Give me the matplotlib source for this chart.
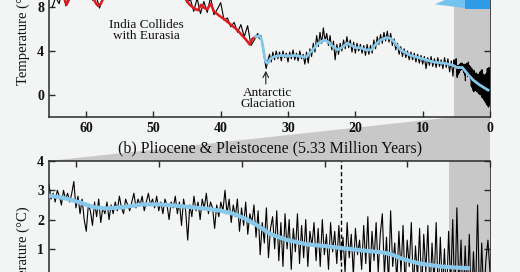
import numpy as np
import matplotlib
matplotlib.use("Agg")
import matplotlib.pyplot as plt
from matplotlib.patches import Polygon

# ---------------- data ----------------
# (a) Cenozoic: black record, Eocene part 65.0 -> 35.0 Myr (evenly sampled)
eocene_black = [8.0, 8.9, 8.3, 9.6, 8.1, 9.2, 8.7, 10.1, 9.4, 10.0,
                9.1, 9.7, 8.6, 9.0, 7.9, 8.8, 9.4, 10.5, 10.1, 11.6,
                11.0, 12.2, 11.5, 12.8, 12.0, 13.1, 12.2, 13.0, 12.4, 12.9,
                11.9, 12.6, 11.6, 12.0, 10.9, 11.3, 10.0, 10.4, 9.1, 9.5,
                8.4, 8.7, 7.6, 8.8, 7.4, 8.5, 7.5, 8.9, 7.3, 7.8,
                8.4, 6.8, 7.0, 6.2, 6.6, 5.7, 6.4, 5.3, 6.3, 4.5, 5.0]
eocene_span = (65.0, 35.0)

# black record 34.5 -> 5.5 Myr (evenly sampled)
ceno_black = [5.6, 5.1, 5.4, 4.2, 3.3, 2.4, 3.1, 3.7, 3.0, 3.9,
              3.2, 4.0, 3.3, 3.9, 3.1, 4.0, 3.4, 3.8, 3.0, 3.9,
              3.3, 4.1, 3.2, 3.8, 3.1, 4.0, 3.3, 3.7, 2.8, 3.9,
              2.9, 4.2, 3.5, 4.7, 3.9, 5.4, 4.4, 5.7, 4.7, 6.1,
              4.9, 5.6, 4.5, 5.4, 4.1, 4.9, 3.2, 4.6, 3.7, 4.7,
              4.0, 5.0, 4.2, 5.3, 4.3, 5.0, 3.9, 4.8, 3.8, 4.7,
              4.0, 4.6, 3.8, 4.5, 3.6, 4.6, 3.7, 4.5, 3.8, 5.0,
              4.2, 5.3, 4.6, 5.5, 4.7, 5.7, 4.9, 5.8, 4.8, 5.6,
              4.5, 5.1, 4.1, 4.7, 3.7, 4.4, 3.5, 4.2, 3.4, 4.0,
              3.2, 3.9, 3.2, 3.8, 3.0, 3.7, 2.9, 3.6, 2.8, 3.5,
              2.4, 3.4, 2.7, 3.5, 2.6, 3.3, 2.5, 3.4, 2.6, 3.2,
              2.4, 3.4, 2.5, 3.3, 2.1, 3.1, 1.7]
ceno_span = (34.5, 5.5)

# (b) Pliocene & Pleistocene black record 5.33 -> 0 Myr (evenly sampled)
plio_black = [3.2, 2.7, 2.9, 2.6, 3.0, 2.8, 2.5, 3.0, 2.7, 2.9,
              2.6, 2.9, 3.3, 2.4, 2.8, 2.2, 2.7, 2.0, 1.6, 2.5,
              2.3, 1.8, 2.6, 2.1, 2.7, 1.9, 2.4, 2.2, 2.6, 2.0,
              2.5, 2.2, 2.6, 2.3, 2.8, 2.4, 2.2, 2.7, 2.5, 2.3,
              2.6, 2.9, 2.4, 2.7, 2.5, 2.8, 2.3, 2.6, 2.9, 2.5,
              2.7, 2.4, 2.8, 2.3, 2.6, 2.2, 2.7, 2.5, 2.0, 2.6,
              2.4, 2.8, 2.2, 2.6, 1.8, 2.7, 2.3, 1.3, 2.5, 2.1,
              2.8, 2.3, 2.6, 2.0, 2.7, 2.4, 2.9, 2.2, 2.6, 2.4,
              1.7, 2.5, 2.1, 2.6, 2.3, 3.0, 2.2, 2.7, 1.9, 2.5,
              2.1, 2.7, 1.6, 2.4, 1.8, 2.6, 1.5, 2.2, 1.9, 2.5,
              1.4, 2.3, 0.8, 1.9, 1.2, 2.4, 0.7, 1.7, 2.1, 1.0,
              2.3, 0.6, 1.9, 0.4, 2.2, 1.0, 2.0, 0.3, 1.7, 0.9,
              2.2, 0.5, 1.8, 0.7, 2.0, 0.4, 1.6, 1.1, 1.9, 0.6,
              1.7, 0.4, 2.0, 0.8, 1.5, 0.3, 1.9, 0.9, 1.6, 0.5,
              1.8, 0.6, 1.4, 0.2, 1.9, 0.7, 1.5, 0.1, 1.7, 0.8,
              1.3, 0.3, 1.8, 0.5, 2.1, 0.0, 1.6, 0.6, 1.9, 0.2,
              1.5, 2.2, 0.1, 1.4, -0.2, 2.3, 0.4, 1.2, -0.1, 1.6,
              0.2, 1.8, -0.3, 1.3, 0.4, 1.9, -0.4, 1.1, 0.0, 1.7,
              -0.5, 1.5, 0.2, 1.8, -0.6, 1.2, -0.2, 1.9, -0.7, 1.4,
              -0.4, 1.0, -0.8, 1.6, -0.3, 2.0, -0.9, 2.4, -0.5, 1.3,
              -1.0, 1.1, -0.6, 1.5, -1.1, 0.9, -0.7, 2.5, -1.0, 1.2,
              -0.8, 0.6, 1.3, 0.2]
plio_span = (5.33, 0.0)

# red smoothed Eocene curve
red_age = [63.6, 63.2, 62.9, 62.6, 62.0, 61.0, 60.0, 59.0, 58.5, 58.2,
           57.8, 57.3, 56.5, 55.5, 54.5, 53.0, 51.5, 50.0, 48.5, 47.0,
           46.0, 45.2, 44.6, 44.0, 43.4, 42.9, 42.4, 42.0, 41.5, 41.0,
           40.2, 39.5, 38.5, 37.5, 36.8, 36.2, 35.7, 35.3, 34.8]
red_temp = [9.2, 8.7, 8.2, 8.6, 9.3, 9.8, 9.5, 8.9, 8.3, 8.1,
            8.3, 9.0, 10.2, 11.2, 11.8, 12.3, 12.6, 12.4, 11.6, 10.4,
            9.4, 8.7, 8.2, 7.9, 7.7, 8.2, 7.9, 7.8, 8.3, 7.6,
            7.2, 6.9, 6.4, 5.9, 5.4, 5.0, 4.6, 5.1, 5.3]

# blue smoothed curve, panel (a)
blue_top_age = [34.8, 34.2, 33.9, 33.6, 33.3, 33.0, 32.6, 32.0, 31.0, 30.0,
                29.0, 28.0, 27.3, 26.5, 25.5, 24.6, 24.0, 23.3, 22.6, 21.8,
                21.2, 20.5, 20.0, 19.2, 18.5, 17.6, 17.0, 16.2, 15.4, 14.8,
                14.2, 13.3, 11.8, 9.9, 8.4, 6.9, 5.6, 4.9, 4.1, 3.25,
                2.5, 1.5, 0.3]
blue_top_temp = [5.3, 5.4, 5.0, 3.9, 3.0, 2.9, 3.3, 3.5, 3.6, 3.55,
                 3.6, 3.5, 3.45, 4.0, 4.7, 5.0, 4.8, 4.4, 4.1, 4.4,
                 4.7, 4.5, 4.3, 4.3, 4.1, 4.1, 4.6, 5.0, 5.2, 5.15,
                 4.8, 4.1, 3.6, 3.27, 3.0, 2.9, 2.73, 2.5, 2.5, 1.85,
                 1.36, 0.9, 0.45]

# blue smoothed curve, panel (b)
blue_bot_age = [5.33, 5.15, 4.95, 4.8, 4.65, 4.45, 4.2, 4.0, 3.7, 3.45,
                3.25, 3.1, 2.95, 2.8, 2.65, 2.45, 2.2, 2.0, 1.8, 1.55,
                1.3, 1.2, 1.05, 0.85, 0.6, 0.4, 0.24]
blue_bot_temp = [2.82, 2.74, 2.58, 2.43, 2.38, 2.42, 2.52, 2.52, 2.45, 2.38,
                 2.3, 2.2, 2.02, 1.78, 1.5, 1.3, 1.15, 1.1, 1.03, 0.95,
                 0.88, 0.82, 0.65, 0.5, 0.4, 0.36, 0.34]

top_xticks = [60, 50, 40, 30, 20, 10, 0]
top_yticks = [0, 4, 8]
bot_xticks = [5, 4, 3, 2, 1, 0]
bot_yticks = [1, 2, 3, 4]
pliocene_start = 5.33
pleistocene_mark = 1.8
recent_shade = 0.5

annot_india = "India Collides\nwith Eurasia"
annot_antarctic = "Antarctic\nGlaciation"
title_b = "(b) Pliocene & Pleistocene (5.33 Million Years)"
ylabel = "Temperature (°C)"

# ---------------- style ----------------
BG = "#f3f4f4"
GRAY = "#c8c8c8"
BLUE = "#88c8eb"
RED = "#e01a1f"
SPINE = "#2a2a2a"
plt.rcParams["font.family"] = ["Liberation Serif", "DejaVu Serif"]

W, H, DPI = 520, 272, 100
fig = plt.figure(figsize=(W / DPI, H / DPI), dpi=DPI, facecolor=BG)


def px_rect(x0, x1, ytop, ybot):
    return [x0 / W, 1 - ybot / H, (x1 - x0) / W, (ybot - ytop) / H]


top_ylim = (-2, 13)
bot_ylim = (-2, 4)
ax1 = fig.add_axes(px_rect(49, 490, 117 - (top_ylim[1] - top_ylim[0]) * 11.0, 117))
ax2 = fig.add_axes(px_rect(49, 490, 161, 161 + (bot_ylim[1] - bot_ylim[0]) * 29.3))

for ax in (ax1, ax2):
    ax.set_facecolor(BG)
    for s in ax.spines.values():
        s.set_color(SPINE)
        s.set_linewidth(1.1)
    ax.spines["right"].set_linewidth(0.6)
    ax.tick_params(direction="in", length=4, width=1.0, colors=SPINE,
                   top=True, right=True, labelsize=10, labelcolor="#111")

# ---- panel (a)
ax1.set_xlim(65.5, 0)
ax1.set_ylim(*top_ylim)
ax1.set_xticks(top_xticks)
ax1.set_yticks(top_yticks)
ax1.axvspan(pliocene_start, 0, color=GRAY, lw=0, zorder=0.5)

age_all = np.concatenate([np.linspace(*eocene_span, len(eocene_black)),
                          np.linspace(*ceno_span, len(ceno_black)),
                          np.linspace(*plio_span, len(plio_black))])
temp_all = np.concatenate([eocene_black, ceno_black, plio_black])
ax1.plot(age_all, temp_all, color="black", lw=0.8, zorder=2)
ax1.plot(red_age, red_temp, color=RED, lw=1.8, zorder=3)
ax1.plot(blue_top_age, blue_top_temp, color=BLUE, lw=2.0, zorder=3)

# blue marker shapes at upper right
ax1.add_patch(Polygon([(8.2, 8.25), (3.7, 7.9), (3.7, 9.4)], closed=True,
                      facecolor="#74c2f0", edgecolor="none", zorder=4))
ax1.add_patch(Polygon([(3.7, 7.82), (0, 7.82), (0, 9.6), (3.7, 9.6)], closed=True,
                      facecolor="#2d9be6", edgecolor="none", zorder=4))

ax1.text(51.1, 5.9, annot_india, ha="center", va="center", fontsize=9.5,
         linespacing=0.9, color="#111")
ax1.text(33.0, -0.3, annot_antarctic, ha="center", va="center", fontsize=9.5,
         linespacing=0.9, color="#111")
ax1.annotate("", xy=(33.3, 2.2), xytext=(33.3, 1.0),
             arrowprops=dict(arrowstyle="->", lw=0.8, color="#222",
                             shrinkA=0, shrinkB=0))

# ---- panel (b)
ax2.set_xlim(pliocene_start, 0)
ax2.set_ylim(*bot_ylim)
ax2.set_xticks(bot_xticks)
ax2.set_yticks(bot_yticks)
ax2.tick_params(labelbottom=False)
ax2.axvspan(recent_shade, 0, color=GRAY, lw=0, zorder=0.5)
ax2.plot(np.linspace(*plio_span, len(plio_black)), plio_black,
         color="black", lw=0.8, zorder=2)
ax2.plot(blue_bot_age, blue_bot_temp, color=BLUE, lw=3.0, zorder=3,
         solid_capstyle="butt")
ax2.axvline(pleistocene_mark, color="black", lw=1.0, ls=(0, (3, 2)), zorder=2.5)

for ax in (ax1, ax2):
    for lbl in ax.get_xticklabels() + ax.get_yticklabels():
        lbl.set_fontweight("bold")

# ---- zoom trapezoid linking the panels
inv = fig.transFigure.inverted()
pts = [ax1.transData.transform((pliocene_start, top_ylim[0])),
       ax1.transData.transform((0, top_ylim[0])),
       ax2.transData.transform((0, bot_ylim[1])),
       ax2.transData.transform((pliocene_start, bot_ylim[1]))]
trap = Polygon(inv.transform(np.array(pts)), closed=True, transform=fig.transFigure,
               facecolor=GRAY, edgecolor="none", zorder=-1)
fig.add_artist(trap)

fig.text(270 / W, 1 - 148 / H, title_b, ha="center", va="center",
         fontsize=11.5, color="#111")
fig.text(23 / W, 1 - 33.5 / H, ylabel, rotation=90, ha="center", va="center",
         fontsize=10.5, color="#111")
fig.text(23 / W, 1 - 257.5 / H, ylabel, rotation=90, ha="center", va="center",
         fontsize=10.5, color="#111")

fig.savefig("out.png", dpi=DPI, facecolor=BG)
